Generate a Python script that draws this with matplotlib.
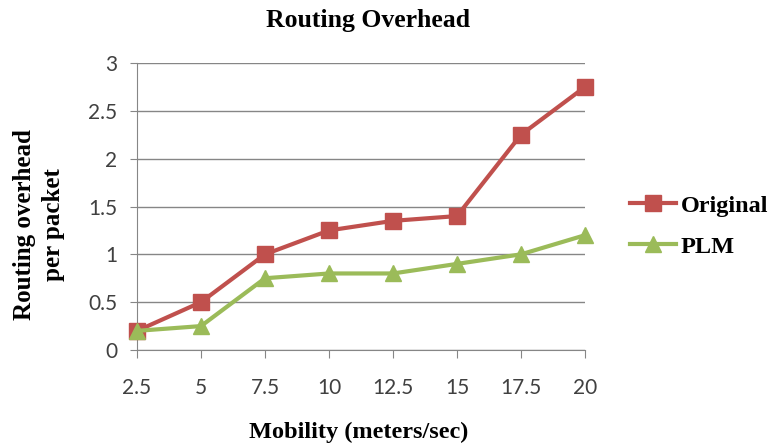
import matplotlib
matplotlib.use('Agg')
import matplotlib.pyplot as plt
import numpy as np

mobility = ['2.5', '5', '7.5', '10', '12.5', '15', '17.5', '20']
original = [0.2, 0.5, 1.0, 1.25, 1.35, 1.4, 2.25, 2.75]
plm = [0.2, 0.25, 0.75, 0.8, 0.8, 0.9, 1.0, 1.2]
yticks = [0, 0.5, 1, 1.5, 2, 2.5, 3]
ytick_labels = ['0', '0.5', '1', '1.5', '2', '2.5', '3']

serif = 'Liberation Serif'
sans = 'Lato'

fig = plt.figure(figsize=(7.72, 4.46), dpi=100)
ax = fig.add_axes([137 / 772, 96 / 446, 448 / 772, 287 / 446])

x = np.arange(len(mobility))
ax.plot(x, original, color='#C0504D', lw=3, marker='s', ms=11,
        label='Original', clip_on=False, zorder=3)
ax.plot(x, plm, color='#9BBB59', lw=3, marker='^', ms=11,
        label='PLM', clip_on=False, zorder=3)

ax.set_xlim(0, len(mobility) - 1)
ax.set_ylim(0, 3)
ax.set_xticks(x)
ax.set_xticklabels(mobility, fontfamily=sans, fontsize=15, color='#404040')
ax.set_yticks(yticks)
ax.set_yticklabels(ytick_labels, fontfamily=sans, fontsize=15, color='#404040')
ax.tick_params(axis='x', direction='out', length=6, color='#868686', pad=14)
ax.tick_params(axis='y', direction='out', length=5, color='#868686', pad=9)
ax.grid(axis='y', color='#868686', lw=1)
ax.set_axisbelow(True)
for s in ['top', 'right']:
    ax.spines[s].set_visible(False)
for s in ['left', 'bottom']:
    ax.spines[s].set_color('#868686')

fig.text(368 / 772, 1 - 21 / 446, 'Routing Overhead', ha='center', va='center',
         fontfamily=serif, fontweight='bold', fontsize=18.5)
fig.text(359 / 772, 1 - 432 / 446, 'Mobility (meters/sec)', ha='center', va='center',
         fontfamily=serif, fontweight='bold', fontsize=17.5)
fig.text(39 / 772, 1 - 225 / 446, 'Routing overhead\nper packet', ha='center', va='center',
         rotation=90, fontfamily=serif, fontweight='bold', fontsize=18,
         linespacing=1.35)

ax.legend(loc='center left', bbox_to_anchor=(1.051, 0.432), frameon=False,
          prop={'family': serif, 'weight': 'bold', 'size': 17.5},
          handlelength=1.9, handletextpad=0.2, labelspacing=0.78)

fig.savefig('out.png', dpi=100)
